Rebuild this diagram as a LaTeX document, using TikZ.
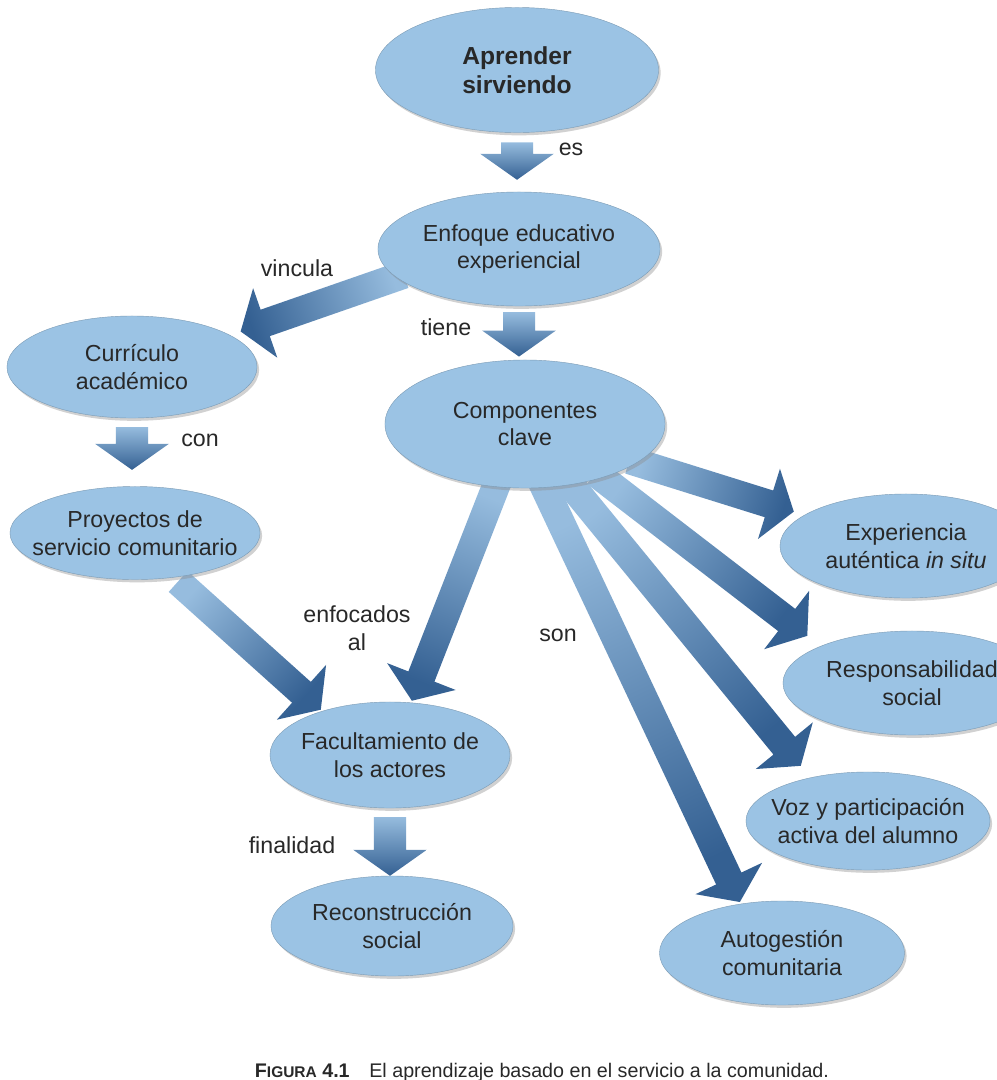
\documentclass[tikz,border=0pt]{standalone}
\usepackage{fontspec}
\setmainfont{Liberation Sans}
\usetikzlibrary{shapes.geometric,calc,backgrounds,shadows}
\definecolor{burbujaazul}{RGB}{155,195,228}
\definecolor{flclaro}{RGB}{150,188,222}
\definecolor{flosc}{RGB}{52,96,146}
\definecolor{tinta}{RGB}{40,40,40}
\tikzset{
  burbuja/.style={ellipse, fill=burbujaazul, draw=burbujaazul!80!black, line width=0.3pt,
    text=tinta, align=center, inner xsep=-1cm, inner ysep=-0.3cm,
    drop shadow={shadow xshift=1.5pt, shadow yshift=-2pt, fill=black!45, opacity=0.4}},
  rotulo/.style={text=tinta, align=center},
}
\newcommand{\flpunta}{0.65cm}
\newcommand{\flala}{0.92cm}
% block arrow: {from}{to}{half shaft}{gap at start}{gap at end}
\newcommand{\flecha}[5]{%
  \path let \p1=(#1), \p2=(#2), \n1={atan2(\y2-\y1,\x2-\x1)} in
    \pgfextra{\pgfmathsetmacro{\flang}{\n1+90}\global\let\flangle\flang};
  \shade[top color=flclaro, bottom color=flosc, shading angle=\flangle]
    let \p1=($(#1)!#4!(#2)$), \p2=($(#2)!#5!(#1)$),
        \n1={atan2(\y2-\y1,\x2-\x1)}, \p3=($(\p2)!\flpunta!(\p1)$) in
    ($(\p1)+(\n1+90:#3)$) -- ($(\p3)+(\n1+90:#3)$) -- ($(\p3)+(\n1+90:\flala)$)
    -- (\p2) -- ($(\p3)+(\n1-90:\flala)$) -- ($(\p3)+(\n1-90:#3)$)
    -- ($(\p1)+(\n1-90:#3)$) -- cycle;
}

\begin{document}
\begin{tikzpicture}[x=0.025cm, y=-0.025cm, every node/.style={font=\fontsize{16.5}{19.5}\selectfont}]
\useasboundingbox (0,0) rectangle (997,1080);
% Burbujas
\node[burbuja, font=\fontsize{17.5}{20.5}\selectfont\bfseries, minimum width=7.075cm, minimum height=3.125cm] (asv) at (517,70) {Aprender\\sirviendo};
\node[burbuja, minimum width=7.05cm, minimum height=2.85cm] (enf) at (519,249) {Enfoque educativo\\experiencial};
\node[burbuja, minimum width=6.25cm, minimum height=2.55cm] (cur) at (132,367) {Currículo\\académico};
\node[burbuja, minimum width=7cm, minimum height=3.2cm] (comp) at (525,424) {Componentes\\clave};
\node[burbuja, minimum width=6.25cm, minimum height=2.325cm] (proy) at (135,533) {Proyectos de\\servicio comunitario};
\node[burbuja, minimum width=6.3cm, minimum height=2.6cm] (exp) at (906,546) {Experiencia\\auténtica \textit{in situ}};
\node[burbuja, minimum width=6.45cm, minimum height=2.6cm] (resp) at (912,683) {Responsabilidad\\social};
\node[burbuja, minimum width=6.1cm, minimum height=2.45cm] (voz) at (868,821) {Voz y participación\\activa del alumno};
\node[burbuja, minimum width=6.125cm, minimum height=2.6cm] (auto) at (782,953) {Autogestión\\comunitaria};
\node[burbuja, minimum width=6cm, minimum height=2.65cm] (fac) at (390,755) {Facultamiento de\\los actores};
\node[burbuja, minimum width=6.05cm, minimum height=2.5cm] (rec) at (392,926) {Reconstrucción\\social};
% Rotulos
\node[rotulo] (les) at (571,149) {es};
\node[rotulo] (lvin) at (297,268) {vincula};
\node[rotulo] (ltie) at (446,327) {tiene};
\node[rotulo] (lcon) at (200,440) {con};
\node[rotulo] (lenf) at (357,628) {enfocados\\al};
\node[rotulo] (lson) at (558,635) {son};
\node[rotulo] (lfin) at (292,845) {finalidad};
% Pie
\node[anchor=base west, font=\fontsize{14}{16}\selectfont, text=tinta] (pie) at (250,1077)
  {\textbf{F{\fontsize{11}{13}\selectfont IGURA} 4.1}\quad El aprendizaje basado en el servicio a la comunidad.};
% Flechas
\begin{pgfonlayer}{background}
\fill[white] (0,0) rectangle (997,1080);
\flecha{asv.south}{asv.south |- enf.north}{0.4cm}{0.24cm}{0.3cm}
\flecha{enf.south}{enf.south |- comp.north}{0.4cm}{0.15cm}{0.08cm}
\flecha{enf.193}{cur.18}{0.35cm}{-0.2cm}{0.28cm}
\flecha{cur.south}{cur.south |- proy.north}{0.4cm}{0.22cm}{0.41cm}
\flecha{proy.-49}{fac.147}{0.35cm}{0.15cm}{0.05cm}
\flecha{comp.-115}{fac.68}{0.35cm}{-0.2cm}{0.05cm}
\flecha{comp.-19}{exp.163}{0.35cm}{-0.2cm}{0.28cm}
\flecha{comp.-35}{resp.158}{0.35cm}{-0.2cm}{0.42cm}
\flecha{comp.-53}{voz.143}{0.35cm}{-0.2cm}{0.38cm}
\flecha{comp.-73}{auto.130}{0.35cm}{-0.2cm}{0.05cm}
\flecha{fac.south}{fac.south |- rec.north}{0.4cm}{0.22cm}{0cm}
\end{pgfonlayer}
\end{tikzpicture}
\end{document}
